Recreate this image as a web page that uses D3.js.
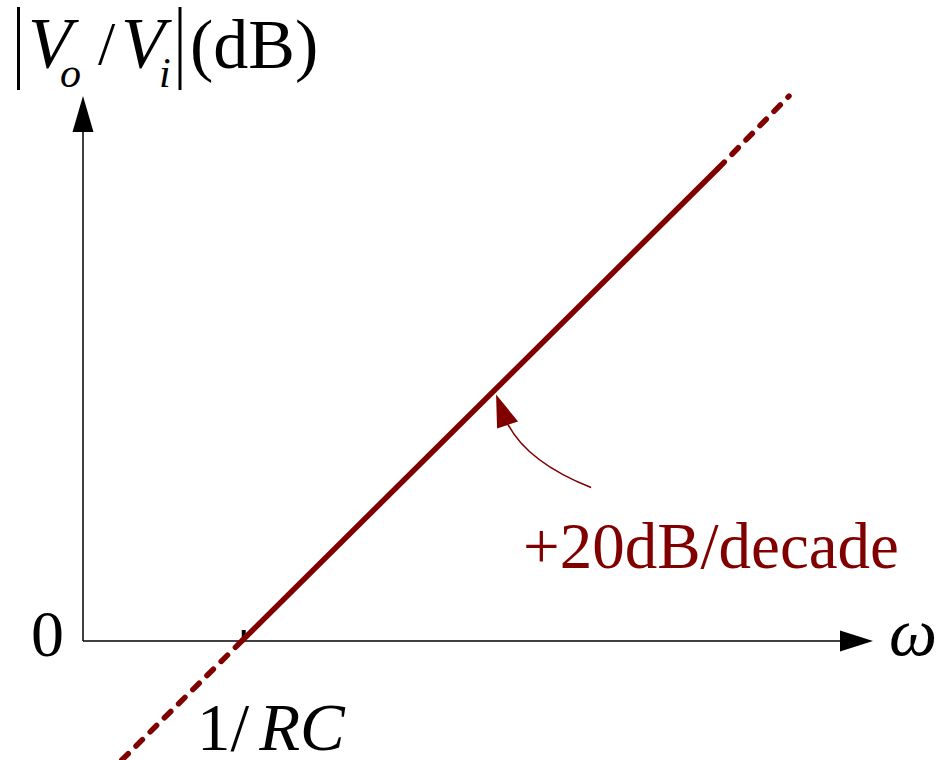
<!DOCTYPE html>
<html>
<head>
<meta charset="utf-8">
<script src="https://cdn.jsdelivr.net/npm/d3@7"></script>
<style>
html,body{margin:0;padding:0;background:#fff;}
svg{display:block;}
text{font-family:"Liberation Serif","Times New Roman",serif;}
</style>
</head>
<body>
<svg id="chart" width="938" height="760"></svg>
<script>
// ---- data ----
const omegaLowDash = [0.17, 1];        // dashed extension below the corner
const gainLowDash = [-15.4, 0];
const omegaSolid = [1, 1000];          // solid asymptote
const gainSolid = [0, 60];
const omegaHighDash = [1000, 2800];    // dashed extension above
const gainHighDash = [60, 69.2];
const cornerOmega = 1;                 // 1/RC
const annotOmega = 40;                 // where the slope annotation points
const annotGain = 31.3;
const yTickLabels = ["0"];
const xTickLabel = "1/";
const slopeLabel = "+20dB/decade";
const lineColor = "#800000";

// ---- scales ----
const svg = d3.select("#chart");
svg.append("rect").attr("width",938).attr("height",760).attr("fill","#fff");
const x = d3.scaleLog().domain([0.1, 1000]).range([83, 718]);
const y = d3.scaleLinear().domain([0, 60]).range([641, 168.5]);
const x0 = x(0.1), y0 = y(0);

// ---- axes ----
const axisW = 1.5;
svg.append("line").attr("x1",x0).attr("y1",y0).attr("x2",x0).attr("y2",128)
  .attr("stroke","#000").attr("stroke-width",axisW);
svg.append("path").attr("d",`M${x0},96 L${x0-10.5},132 L${x0+10.5},132 Z`).attr("fill","#000");
svg.append("line").attr("x1",x0).attr("y1",y0).attr("x2",842).attr("y2",y0)
  .attr("stroke","#000").attr("stroke-width",axisW);
svg.append("path").attr("d",`M873,${y0} L840,${y0-10.5} L840,${y0+10.5} Z`).attr("fill","#000");

// tick at corner frequency
svg.append("line").attr("x1",x(cornerOmega)+2).attr("x2",x(cornerOmega)+2)
  .attr("y1",y0-11).attr("y2",y0).attr("stroke","#000").attr("stroke-width",4);

// ---- lines ----
const line = d3.line().x(d=>x(d[0])).y(d=>y(d[1]));
function seg(os, gs, dashed){
  svg.append("path").attr("d", line(os.map((o,i)=>[o,gs[i]])))
    .attr("fill","none").attr("stroke",lineColor).attr("stroke-width",5.5)
    .attr("stroke-linecap", dashed ? "round" : "butt")
    .attr("stroke-dasharray", dashed ? "9,11" : null);
}
seg(omegaSolid, gainSolid, false);
seg(omegaLowDash.slice().reverse(), gainLowDash.slice().reverse(), true);
seg(omegaHighDash, gainHighDash, true);

// ---- annotation ----
const ax = x(annotOmega), ay = y(annotGain);
svg.append("path")
  .attr("d",`M${ax+12},${ay+30} Q${ax+32},${ay+68} ${ax+95},${ay+93}`)
  .attr("fill","none").attr("stroke",lineColor).attr("stroke-width",1.6);
svg.append("path")
  .attr("d",`M${ax},${ay} L${ax+1},${ay+34} L${ax+22},${ay+27} Z`)
  .attr("fill",lineColor);
svg.append("text").attr("x",523).attr("y",568).attr("font-size",65)
  .attr("fill",lineColor).text(slopeLabel);

// ---- tick labels ----
svg.append("text").attr("x",64).attr("y",656).attr("text-anchor","end")
  .attr("font-size",66).text(yTickLabels[0]);
const xl = svg.append("text").attr("x",197).attr("y",750).attr("font-size",67);
xl.append("tspan").text(xTickLabel);
xl.append("tspan").attr("dx",10).attr("font-style","italic").text("RC");
svg.append("text").attr("x",889).attr("y",655).attr("font-size",68)
  .attr("font-style","italic").text("ω");

// ---- y-axis title |Vo / Vi|(dB) ----
const t = svg.append("g");
t.append("line").attr("x1",18.5).attr("x2",18.5).attr("y1",7).attr("y2",90)
  .attr("stroke","#000").attr("stroke-width",3);
t.append("line").attr("x1",180).attr("x2",180).attr("y1",7).attr("y2",90)
  .attr("stroke","#000").attr("stroke-width",3);
t.append("text").attr("x",28).attr("y",67).attr("font-size",72).attr("font-style","italic").text("V");
t.append("text").attr("x",60).attr("y",87).attr("font-size",42).attr("font-style","italic").text("o");
t.append("text").attr("x",98).attr("y",64).attr("font-size",62).text("/");
t.append("text").attr("x",121).attr("y",67).attr("font-size",72).attr("font-style","italic").text("V");
t.append("text").attr("x",159).attr("y",87).attr("font-size",42).attr("font-style","italic").text("i");
t.append("text").attr("x",190).attr("y",68).attr("font-size",70).text("(dB)");
</script>
</body>
</html>
